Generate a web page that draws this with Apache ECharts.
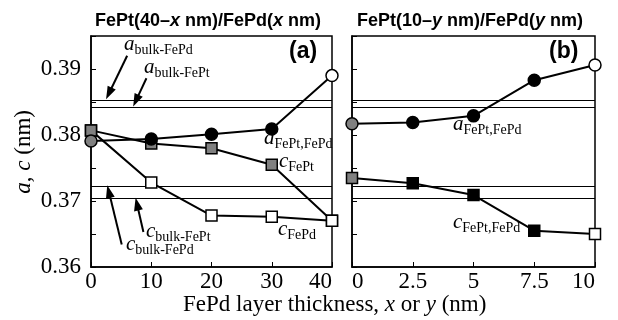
<!DOCTYPE html>
<html>
<head>
<meta charset="utf-8">
<script src="https://cdn.jsdelivr.net/npm/echarts@6/dist/echarts.min.js"></script>
<style>
  html, body { margin: 0; background: #fff; }
  #main { width: 618px; height: 320px; }
</style>
</head>
<body>
<div id="main"></div>
<script>
// panel (a): FePt(40-x)/FePd(x), panel (b): FePt(10-y)/FePd(y)
var xLeft = [0, 10, 20, 30, 40];
var xRight = [0, 2.5, 5, 7.5, 10];

var aLeft = [0.3791, 0.3794, 0.3801, 0.3809, 0.3890];
var cFePtLeft = [0.3807, 0.3787, 0.3780, 0.3755, 0.3670];
var cFePdLeft = [0.3807, 0.3728, 0.3678, 0.3676, 0.3670];

var aRight = [0.3817, 0.3819, 0.3829, 0.3883, 0.3906];
var cRight = [0.3735, 0.3727, 0.3709, 0.3655, 0.3650];

// bulk values: [FePd, FePt]
var bulkA = [0.3853, 0.3842];
var bulkC = [0.3723, 0.3704];

// annotation arrows in panel (a): [tail x, tail y, tip x, tip y]
var arrows = [
    [6.0, 0.3920, 2.5, 0.3854],
    [9.2, 0.3886, 7.0, 0.3843],
    [8.7, 0.3653, 7.4, 0.3705],
    [5.1, 0.3634, 2.7, 0.3724]
];

var G = '#808080', K = '#000', W = '#fff';
var colALeft = [G, K, K, K, W];
var colCFePtLeft = [G, G, G, G, W];
var colCFePdLeft = [G, W, W, W, W];
var colARight = [G, K, K, K, W];
var colCRight = [G, K, K, K, W];

var SERIF = '"Liberation Serif", "DejaVu Serif", serif';
var SANS = '"Liberation Sans", Arial, sans-serif';

function pts(xs, ys, cols) {
    return xs.map(function (x, i) {
        return { value: [x, ys[i]], itemStyle: { color: cols[i] } };
    });
}

function dataSeries(idx, xs, ys, cols, sym, size) {
    return {
        type: 'line',
        xAxisIndex: idx,
        yAxisIndex: idx,
        data: pts(xs, ys, cols),
        symbol: sym,
        symbolSize: size,
        showAllSymbol: true,
        lineStyle: { color: '#000', width: 2 },
        itemStyle: { borderColor: '#000', borderWidth: 1.5 },
        emphasis: { disabled: true },
        z: 5
    };
}

function refLines(idx) {
    return {
        type: 'line',
        xAxisIndex: idx,
        yAxisIndex: idx,
        data: [],
        markLine: {
            silent: true,
            precision: 5,
            symbol: 'none',
            label: { show: false },
            lineStyle: { color: '#000', width: 1, type: 'solid' },
            data: bulkA.concat(bulkC).map(function (v) { return { yAxis: v }; })
        }
    };
}

var yLabel = {
    fontFamily: SERIF,
    fontSize: 23,
    color: '#000',
    margin: 10,
    formatter: function (v) {
        return Math.round(v * 1000) % 10 === 0 ? v.toFixed(2) : '';
    }
};

function xAxis(idx, max, interval, alignMin, alignMax) {
    return {
        type: 'value',
        gridIndex: idx,
        min: 0,
        max: max,
        interval: interval,
        axisLine: { lineStyle: { color: '#000', width: 1.5 } },
        axisTick: { inside: true, length: 5, lineStyle: { color: '#000' } },
        axisLabel: {
            fontFamily: SERIF, fontSize: 23, color: '#000', margin: 3,
            showMinLabel: true, showMaxLabel: true,
            alignMinLabel: alignMin, alignMaxLabel: alignMax
        },
        splitLine: { show: false }
    };
}

function yAxis(idx, labels) {
    return {
        type: 'value',
        gridIndex: idx,
        min: 0.36,
        max: 0.395,
        interval: 0.005,
        axisLine: { lineStyle: { color: '#000', width: 1.5 } },
        axisTick: { inside: true, length: 5, lineStyle: { color: '#000' } },
        axisLabel: labels ? yLabel : { show: false },
        splitLine: { show: false }
    };
}

var rich = {
    m: { fontFamily: SERIF, fontStyle: 'italic', fontSize: 21, lineHeight: 26, color: '#000' },
    s: { fontFamily: SERIF, fontSize: 14, lineHeight: 11, verticalAlign: 'bottom', color: '#000' },
    t: { fontFamily: SANS, fontWeight: 'bold', fontSize: 18, color: '#000' },
    ti: { fontFamily: SANS, fontWeight: 'bold', fontStyle: 'italic', fontSize: 18, color: '#000' },
    n: { fontFamily: SERIF, fontSize: 23, color: '#000' },
    ni: { fontFamily: SERIF, fontStyle: 'italic', fontSize: 23, color: '#000' }
};

function label(x, y, txt) {
    return { type: 'text', left: x, top: y, style: { text: txt, rich: rich } };
}

var texts = [
    label(95, 12, '{t|FePt(40–}{ti|x}{t| nm)/FePd(}{ti|x}{t| nm)}'),
    label(357, 12, '{t|FePt(10–}{ti|y}{t| nm)/FePd(}{ti|y}{t| nm)}'),
    { type: 'text', left: 289, top: 40, style: { text: '(a)', fontFamily: SANS, fontWeight: 'bold', fontSize: 23, fill: '#000' } },
    { type: 'text', left: 549, top: 40, style: { text: '(b)', fontFamily: SANS, fontWeight: 'bold', fontSize: 23, fill: '#000' } },
    label(124, 34, '{m|a}{s|bulk-FePd}'),
    label(144, 57, '{m|a}{s|bulk-FePt}'),
    label(146, 221, '{m|c}{s|bulk-FePt}'),
    label(126, 234, '{m|c}{s|bulk-FePd}'),
    label(264, 128, '{m|a}{s|FePt,FePd}'),
    label(279, 151, '{m|c}{s|FePt}'),
    label(278, 219, '{m|c}{s|FePd}'),
    label(453, 114, '{m|a}{s|FePt,FePd}'),
    label(453, 212, '{m|c}{s|FePt,FePd}'),
    label(183, 293, '{n|FePd layer thickness, }{ni|x}{n| or }{ni|y}{n| (nm)}'),
    {
        type: 'text', left: 12, top: 110, rotation: Math.PI / 2,
        style: { text: '{ni|a}{n|, }{ni|c}{n| (nm)}', rich: rich }
    }
];

var chart = echarts.init(document.getElementById('main'));
chart.setOption({
    animation: false,
    grid: [
        { left: 91, top: 36, width: 241, height: 231, show: true, borderColor: '#000', borderWidth: 1.5 },
        { left: 352, top: 36, width: 243, height: 231, show: true, borderColor: '#000', borderWidth: 1.5 }
    ],
    xAxis: [xAxis(0, 40, 10, null, 'right'), xAxis(1, 10, 2.5, 'left', 'right')],
    yAxis: [yAxis(0, true), yAxis(1, false)],
    series: [
        refLines(0),
        refLines(1),
        dataSeries(0, xLeft, cFePtLeft, colCFePtLeft, 'rect', 11),
        dataSeries(0, xLeft, cFePdLeft, colCFePdLeft, 'rect', 11),
        dataSeries(0, xLeft, aLeft, colALeft, 'circle', 12),
        dataSeries(1, xRight, aRight, colARight, 'circle', 12),
        dataSeries(1, xRight, cRight, colCRight, 'rect', 11)
    ],
    graphic: texts
});

// arrows: tail and tip mapped through panel (a) axes
var arrowEls = [];
arrows.forEach(function (a) {
    var p1 = chart.convertToPixel({ gridIndex: 0 }, [a[0], a[1]]);
    var p2 = chart.convertToPixel({ gridIndex: 0 }, [a[2], a[3]]);
    var dx = p2[0] - p1[0], dy = p2[1] - p1[1];
    var len = Math.sqrt(dx * dx + dy * dy);
    var ux = dx / len, uy = dy / len;
    var head = 13, half = 4.5;
    var bx = p2[0] - ux * head, by = p2[1] - uy * head;
    arrowEls.push({
        type: 'line',
        shape: { x1: p1[0], y1: p1[1], x2: bx + ux * 2, y2: by + uy * 2 },
        style: { stroke: '#000', lineWidth: 2 },
        z: 10
    });
    arrowEls.push({
        type: 'polygon',
        shape: { points: [[p2[0], p2[1]], [bx - uy * half, by + ux * half], [bx + uy * half, by - ux * half]] },
        style: { fill: '#000' },
        z: 10
    });
});
chart.setOption({ graphic: texts.concat(arrowEls) });
</script>
</body>
</html>
